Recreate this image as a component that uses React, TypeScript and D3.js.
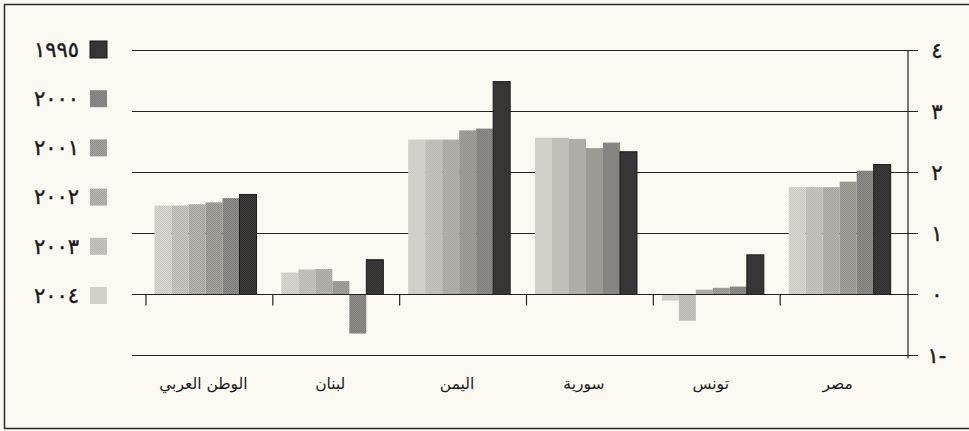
import React from "react";
import * as d3 from "d3";

// categories left to right, as printed
const categories = ["الوطن العربي", "لبنان", "اليمن", "سورية", "تونس", "مصر"];

// series, drawn lightest (2004) on the left to darkest (1995) on the right
const years = ["٢٠٠٤", "٢٠٠٣", "٢٠٠٢", "٢٠٠١", "٢٠٠٠", "١٩٩٥"];
const s2004 = [1.46, 0.36, 2.54, 2.57, -0.1, 1.76];
const s2003 = [1.46, 0.41, 2.54, 2.57, -0.43, 1.76];
const s2002 = [1.48, 0.42, 2.54, 2.55, 0.08, 1.76];
const s2001 = [1.51, 0.22, 2.69, 2.4, 0.11, 1.85];
const s2000 = [1.58, -0.64, 2.72, 2.49, 0.13, 2.03];
const s1995 = [1.64, 0.57, 3.49, 2.34, 0.65, 2.13];
const series = [s2004, s2003, s2002, s2001, s2000, s1995];

const yTicks = [4, 3, 2, 1, 0, -1];
const yTickLabels = ["٤", "٣", "٢", "١", "٠", "١-"];

// legend order top to bottom
const legendYears = ["١٩٩٥", "٢٠٠٠", "٢٠٠١", "٢٠٠٢", "٢٠٠٣", "٢٠٠٤"];

// base tone and stipple tone per series (halftone look of the print)
const fills = ["#dcdad3", "#cbc9c2", "#bab8b2", "#a8a6a1", "#93918d", "#403e3d"];
const dots = ["#c8c6bf", "#b6b4ae", "#a3a19c", "#8f8d89", "#7a7875", "#2e2c2c"];

const W = 969;
const H = 431;
const font = "'DejaVu Sans', sans-serif";

const App: React.FC = () => {
  const y = d3.scaleLinear().domain([-1, 4]).range([355.5, 50.5]);
  const x = d3.scaleBand<string>().domain(categories).range([146, 907]);
  const inner = d3.scaleBand<string>().domain(years).range([8.5, 110.5]);
  const fillId = d3.scaleOrdinal<string, string>().domain(years).range(years.map((_, i) => `url(#st${i})`));
  const legendY = d3.scalePoint<string>().domain(legendYears).range([49.5, 295.5]);

  const y0 = y(0);
  const gridLeft = 132;
  const gridRight = 918;
  const axisX = 908;

  return (
    <div style={{ position: "absolute", left: 0, top: 0 }}>
      <svg width={W} height={H} style={{ display: "block", background: "#fbf9f1" }}>
        <defs>
          {fills.map((f, i) => (
            <pattern key={i} id={`st${i}`} width={2} height={2} patternUnits="userSpaceOnUse">
              <rect width={2} height={2} fill={f} />
              <rect width={1} height={1} fill={dots[i]} />
              <rect x={1} y={1} width={1} height={1} fill={dots[i]} />
            </pattern>
          ))}
        </defs>
        <rect x={4.5} y={4.5} width={W + 10} height={424} fill="none" stroke="#2a2a2a" strokeWidth={1.5} />

        {/* gridlines */}
        {yTicks.map((t) => (
          <line key={t} x1={gridLeft} x2={gridRight} y1={y(t)} y2={y(t)} stroke="#222" strokeWidth={1.2} />
        ))}
        <line x1={axisX} x2={axisX} y1={y(4)} y2={y(-1) + 3} stroke="#222" strokeWidth={1.2} />

        {/* bars */}
        {categories.map((c, ci) => (
          <g key={c} transform={`translate(${x(c)},0)`}>
            {years.map((yr, si) => {
              const v = series[si][ci];
              const top = y(Math.max(0, v));
              const h = Math.abs(y(v) - y0);
              const dark = si === years.length - 1;
              return (
                <rect
                  key={yr}
                  x={inner(yr)}
                  y={top}
                  width={inner.bandwidth()}
                  height={h}
                  fill={fillId(yr)}
                  stroke={dark ? "#1a1a1a" : "none"}
                  strokeWidth={dark ? 1 : 0}
                />
              );
            })}
          </g>
        ))}

        {/* zero line and category ticks */}
        <line x1={gridLeft} x2={gridRight} y1={y0} y2={y0} stroke="#222" strokeWidth={1.2} />
        {categories.map((c) => (
          <line key={c} x1={x(c)!} x2={x(c)!} y1={y0} y2={y0 + 11} stroke="#222" strokeWidth={1.2} />
        ))}

        {/* y labels */}
        {yTicks.map((t, i) => (
          <text key={t} x={937} y={y(t)} dy="0.35em" textAnchor="middle" fontFamily={font} fontSize={21}
            fill="#1a1a1a" stroke="#1a1a1a" strokeWidth={0.4}>
            {yTickLabels[i]}
          </text>
        ))}

        {/* category labels */}
        {categories.map((c) => (
          <text
            key={c}
            x={x(c)! + x.bandwidth() / 2 - 6}
            y={389}
            textAnchor="middle"
            fontFamily={font}
            fontSize={15.5}
            fill="#1a1a1a"
          >
            {c}
          </text>
        ))}

        {/* legend */}
        {legendYears.map((yr, i) => (
          <g key={yr} transform={`translate(0,${legendY(yr)})`}>
            <rect x={90} y={-8.5} width={17} height={17} fill={fillId(yr)}
              stroke={i === 0 ? "#1a1a1a" : "none"} />
            <text x={79} y={0} dy="0.35em" textAnchor="end" fontFamily={font} fontSize={21}
              fill="#1a1a1a" stroke="#1a1a1a" strokeWidth={0.4}>
              {yr}
            </text>
          </g>
        ))}
      </svg>
    </div>
  );
};

export default App;
